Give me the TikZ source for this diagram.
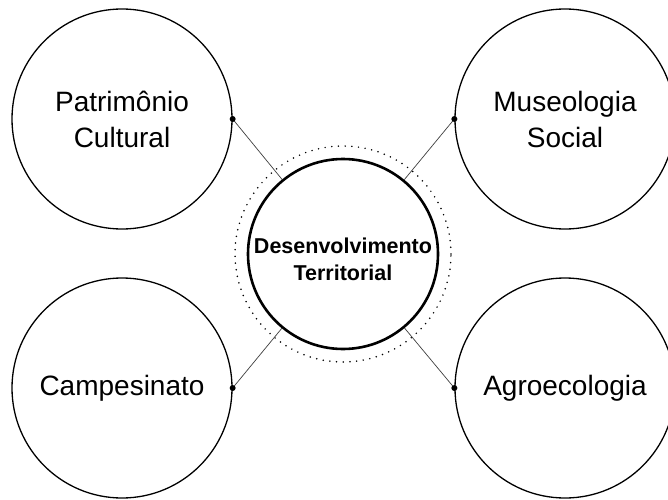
\documentclass[tikz,border=0pt]{standalone}
\usepackage{fontspec}
\setmainfont{Liberation Sans}
\begin{document}
\begin{tikzpicture}[x=1pt,y=1pt,
  outer/.style={circle, draw, line width=1.3pt, minimum size=220pt, inner sep=0pt,
    align=center, font=\fontsize{28}{36}\selectfont},
  core/.style={circle, draw, line width=2.6pt, minimum size=190pt, inner sep=0pt},
  coretext/.style={align=center, inner sep=0pt, font=\bfseries\fontsize{21.5}{27}\selectfont},
  halo/.style={line width=1.7pt, dash pattern=on 0pt off 6.7pt, line cap=round},
  link/.style={draw=black!75, line width=0.7pt},
  joint/.style={circle, fill, inner sep=0pt, minimum size=6pt}]
\useasboundingbox (0,0) rectangle (668,499);
\clip (0,0) rectangle (668,499);
\fill[white] (0,0) rectangle (668,499);
% outer circles
\node[outer] (pc) at (122,380) {Patrimônio\\Cultural};
\node[outer] (ms) at (565,380) {Museologia\\Social};
\node[outer] (ca) at (122,111) {Campesinato};
\node[outer] (ag) at (565,111) {Agroecologia};
% centre
\node[core] (dt) at (343,245) {};
\node[coretext] (dtl) at (343,240) {Desenvolvimento\\Territorial};
\draw[halo] (dt.center) circle (108pt);
% joints
\coordinate (jpc) at (pc.east);
\coordinate (jms) at (ms.west);
\coordinate (jca) at (ca.east);
\coordinate (jag) at (ag.west);
% connectors
\draw[link] (jpc) -- (dt);
\draw[link] (jms) -- (dt);
\draw[link] (jca) -- (dt);
\draw[link] (jag) -- (dt);
\node[joint] (dpc) at (jpc) {};
\node[joint] (dms) at (jms) {};
\node[joint] (dca) at (jca) {};
\node[joint] (dag) at (jag) {};
\end{tikzpicture}
\end{document}
